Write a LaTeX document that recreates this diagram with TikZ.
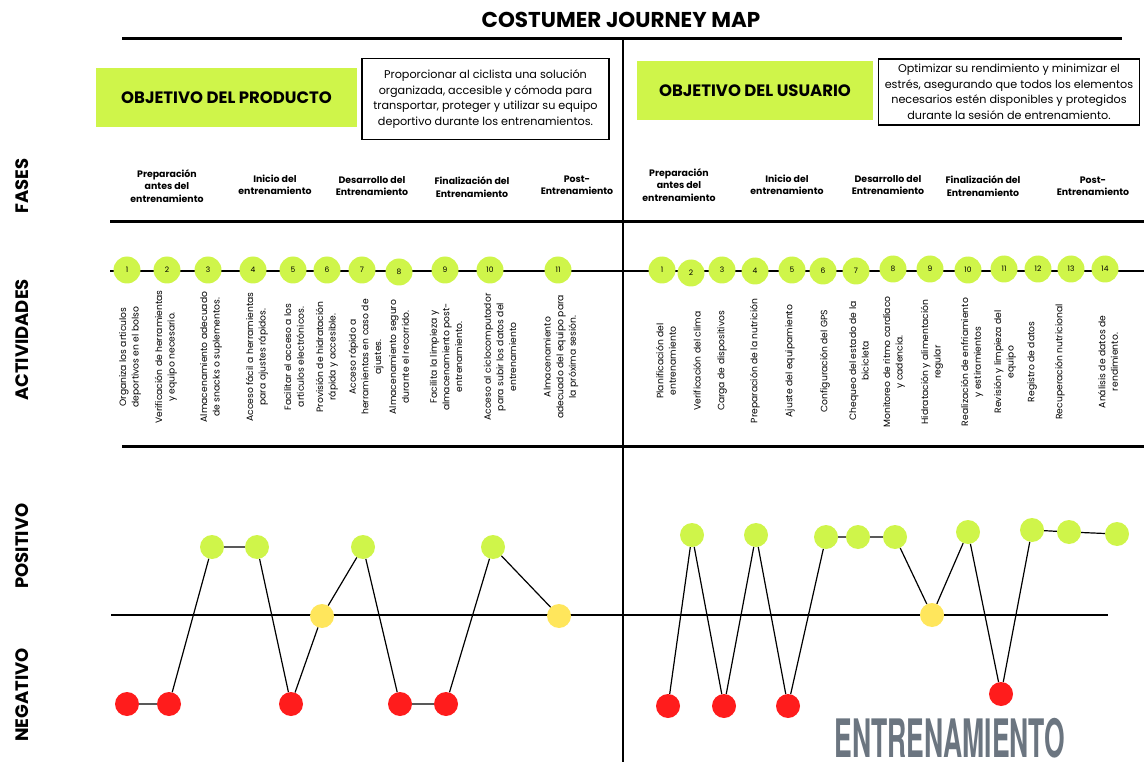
\documentclass[tikz,border=0pt]{standalone}
\usepackage{fontspec}
\setmainfont{Poppins}
\newfontfamily\headfont{TeX Gyre Heros}
\usepackage{tikz}
\usetikzlibrary{positioning}
\definecolor{lima}{HTML}{CFF54A}
\definecolor{rojo}{HTML}{FF1C1C}
\definecolor{amarillo}{HTML}{FFE65C}
\definecolor{pizarra}{HTML}{6B7580}
\tikzstyle{objetivo} = [fill=lima, minimum width=261pt, minimum height=59pt,
    font=\bfseries\fontsize{16.5}{17}\selectfont]
\tikzstyle{nota} = [draw, line width=1.2pt, align=center, inner sep=0pt,
    font=\fontsize{11.2}{15.5}\selectfont]
\tikzstyle{fase} = [align=center, font=\bfseries\fontsize{9.4}{12.5}\selectfont]
\tikzstyle{seccion} = [rotate=90, font=\bfseries\fontsize{18}{18}\selectfont]
\tikzstyle{paso} = [circle, fill=lima, minimum size=27pt, inner sep=0pt,
    font=\fontsize{7.5}{7.5}\selectfont]
\tikzstyle{accion} = [rotate=90, align=center, inner sep=0pt,
    font=\fontsize{9.2}{12.6}\selectfont]
\tikzstyle{bien} = [circle, fill=lima, minimum size=24pt, inner sep=0pt]
\tikzstyle{mal} = [bien, fill=rojo]
\tikzstyle{neutro} = [bien, fill=amarillo]

\begin{document}
\begin{tikzpicture}[x=1pt, y=-1pt]
  \useasboundingbox (0,0) rectangle (1144,762);
  % Frame
  \node [font=\bfseries\fontsize{21.5}{22}\selectfont] (titulo) at (621,20) {COSTUMER JOURNEY MAP};
  \draw [line width=3pt] (122,39) -- (1122,39);
  \draw [line width=1.3pt] (623,39) -- (623,762);
  \draw [line width=3pt] (110,222) -- (1144,222);
  \draw [line width=3pt] (122,446) -- (1144,446);
  \draw [line width=2pt] (110,271) -- (1144,271);
  \draw [line width=1.3pt] (111,615) -- (1108,615);

  % Row labels
  \node [seccion] (fases) at (22,186) {FASES};
  \node [seccion] (actividades) at (22,340) {ACTIVIDADES};
  \node [seccion] (positivo) at (22,546) {POSITIVO};
  \node [seccion] (negativo) at (22,695) {NEGATIVO};

  % Objectives
  \node [objetivo, minimum width=261pt] (objprod) at (226.5,98) {OBJETIVO DEL PRODUCTO};
  \node [nota, minimum width=247pt, minimum height=81pt] (notaprod) at (485.5,99)
  {Proporcionar al ciclista una solución\\organizada, accesible y cómoda para\\transportar, proteger y utilizar su equipo\\deportivo durante los entrenamientos.};
  \node [objetivo, minimum width=236pt] (objusu) at (755,91) {OBJETIVO DEL USUARIO};
  \node [nota, minimum width=261pt, minimum height=66pt] (notausu) at (1009,92)
  {Optimizar su rendimiento y minimizar el\\estrés, asegurando que todos los elementos\\necesarios estén disponibles y protegidos\\durante la sesión de entrenamiento.};

  % Phases
  \node [fase] (fp1) at (167,186) {Preparación\\antes del\\entrenamiento};
  \node [fase] (fp2) at (275,185) {Inicio del\\entrenamiento};
  \node [fase] (fp3) at (372,186) {Desarrollo del\\Entrenamiento};
  \node [fase] (fp4) at (472,187) {Finalización del\\Entrenamiento};
  \node [fase] (fp5) at (577,185) {Post-\\Entrenamiento};
  \node [fase] (fu1) at (679,185) {Preparación\\antes del\\entrenamiento};
  \node [fase] (fu2) at (787,185) {Inicio del\\entrenamiento};
  \node [fase] (fu3) at (888,185) {Desarrollo del\\Entrenamiento};
  \node [fase] (fu4) at (983,186) {Finalización del\\Entrenamiento};
  \node [fase] (fu5) at (1093,186) {Post-\\Entrenamiento};

  % Activities, product side
  \node [paso] (ap1) at (127,270) {1};
  \node [paso] (ap2) at (167,270) {2};
  \node [paso] (ap3) at (208,270) {3};
  \node [paso] (ap4) at (253,270) {4};
  \node [paso] (ap5) at (293,270) {5};
  \node [paso] (ap6) at (327,270) {6};
  \node [paso] (ap7) at (362,270) {7};
  \node [paso] (ap8) at (399,272) {8};
  \node [paso] (ap9) at (445,270) {9};
  \node [paso] (ap10) at (490,270) {10};
  \node [paso] (ap11) at (558,270) {11};
  \node [accion] (tp1) at (130,357) {Organiza los articulos\\deportivos en el bolso};
  \node [accion] (tp2) at (166,357) {Verificación de herramientas\\y equipo necesario.};
  \node [accion] (tp3) at (211,357) {Almacenamiento adecuado\\de snacks o suplementos.};
  \node [accion] (tp4) at (257,357) {Acceso fácil a herramientas\\para ajustes rápidos.};
  \node [accion] (tp5) at (294,357) {Facilitar el acceso a los\\articulos electrónicos.};
  \node [accion] (tp6) at (327,357) {Provisión de hidratación\\rápida y accesible.};
  \node [accion] (tp7) at (366,357) {Acceso rápido a\\herramientas en caso de\\ajustes.};
  \node [accion] (tp8) at (399,357) {Almacenamiento seguro\\durante el recorrido.};
  \node [accion] (tp9) at (446,357) {Facilita la limpieza y\\almacenamiento post-\\entrenamiento.};
  \node [accion] (tp10) at (500,357) {Acceso al ciclocomputador\\para subir los datos del\\entrenamiento};
  \node [accion] (tp11) at (561,357) {Almacenamiento\\adecuado del equipo para\\la próxima sesión.};

  % Activities, user side
  \node [paso] (au1) at (662,270) {1};
  \node [paso] (au2) at (691,273) {2};
  \node [paso] (au3) at (722,270) {3};
  \node [paso] (au4) at (755,271) {4};
  \node [paso] (au5) at (792,270) {5};
  \node [paso] (au6) at (823,271) {6};
  \node [paso] (au7) at (856,271) {7};
  \node [paso] (au8) at (893,269) {8};
  \node [paso] (au9) at (930,269) {9};
  \node [paso] (au10) at (968,270) {10};
  \node [paso] (au11) at (1004,269) {11};
  \node [paso] (au12) at (1038,269) {12};
  \node [paso] (au13) at (1071,269) {13};
  \node [paso] (au14) at (1105,269) {14};
  \node [accion] (tu1) at (666,361) {Planificación del\\entrenamiento};
  \node [accion] (tu2) at (697,361) {Verificación del clima};
  \node [accion] (tu3) at (722,361) {Carga de dispositivos};
  \node [accion] (tu4) at (755,361) {Preparación de la nutrición};
  \node [accion] (tu5) at (790,361) {Ajuste del equipamiento};
  \node [accion] (tu6) at (825,361) {Configuración del GPS};
  \node [accion] (tu7) at (859,361) {Chequeo del estado de la\\bicicleta};
  \node [accion] (tu8) at (894,362) {Monitoreo de ritmo cardíaco\\y cadencia.};
  \node [accion] (tu9) at (932,362) {Hidratación y alimentación\\regular};
  \node [accion] (tu10) at (972,362) {Realización de enfriamiento\\y estiramientos};
  \node [accion] (tu11) at (1005,362) {Revisión y limpieza del\\equipo};
  \node [accion] (tu12) at (1032,362) {Registro de datos};
  \node [accion] (tu13) at (1060,362) {Recuperación nutricional};
  \node [accion] (tu14) at (1108,362) {Análisis de datos de\\rendimiento.};

  % Emotion curve, product side
  \node [mal] (ep1) at (127,704) {};
  \node [mal] (ep2) at (169,704) {};
  \node [bien] (ep3) at (212,547) {};
  \node [bien] (ep4) at (257,547) {};
  \node [mal] (ep5) at (291,704) {};
  \node [neutro] (ep6) at (322,616) {};
  \node [bien] (ep7) at (363,547) {};
  \node [mal] (ep8) at (400,704) {};
  \node [mal] (ep9) at (446,704) {};
  \node [bien] (ep10) at (493,547) {};
  \node [neutro] (ep11) at (559,616) {};
  \draw [line width=1.2pt] (ep1) -- (ep2) -- (ep3) -- (ep4) -- (ep5) -- (ep6)
    -- (ep7) -- (ep8) -- (ep9) -- (ep10) -- (ep11);

  % Emotion curve, user side
  \node [mal] (eu1) at (668,706) {};
  \node [bien] (eu2) at (692,535) {};
  \node [mal] (eu3) at (724,706) {};
  \node [bien] (eu4) at (756,535) {};
  \node [mal] (eu5) at (788,706) {};
  \node [bien] (eu6) at (826,537) {};
  \node [bien] (eu7) at (858,537) {};
  \node [bien] (eu8) at (895,537) {};
  \node [neutro] (eu9) at (932,615) {};
  \node [bien] (eu10) at (968,532) {};
  \node [mal] (eu11) at (1001,694) {};
  \node [bien] (eu12) at (1032,530) {};
  \node [bien] (eu13) at (1069,532) {};
  \node [bien] (eu14) at (1117,534) {};
  \draw [line width=1.2pt] (eu1) -- (eu2) -- (eu3) -- (eu4) -- (eu5) -- (eu6)
    -- (eu7) -- (eu8) -- (eu9) -- (eu10) -- (eu11) -- (eu12) -- (eu13) -- (eu14);

  \node [text=pizarra, inner sep=0pt] (marca) at (950,738)
  {\scalebox{0.5}[1]{\headfont\bfseries\fontsize{53}{53}\selectfont ENTRENAMIENTO}};
\end{tikzpicture}
\end{document}
